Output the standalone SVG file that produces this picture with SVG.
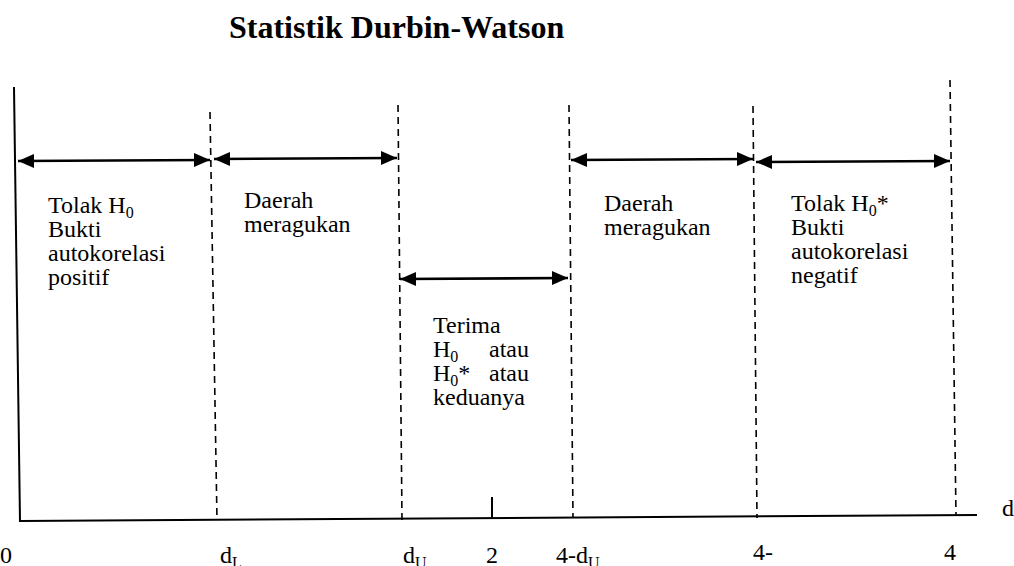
<svg xmlns="http://www.w3.org/2000/svg" width="1014" height="566" viewBox="0 0 1014 566">
<style>
text{font-family:"Liberation Serif","Times New Roman",serif;font-size:24px;fill:#000}
.title{font-weight:bold;font-size:32px}
.sub{font-size:16px}
.axis{stroke:#000;stroke-width:2;fill:none}
.dash{stroke:#000;stroke-width:1.6;stroke-dasharray:7 5;fill:none}
.arr{stroke:#000;stroke-width:2.6;fill:none;marker-start:url(#ah);marker-end:url(#ah)}
</style>
<defs>
<marker id="ah" markerUnits="userSpaceOnUse" markerWidth="18" markerHeight="16" refX="16" refY="7" orient="auto-start-reverse">
<path d="M0,0 L16,7 L0,14 z" fill="#000"/>
</marker>
</defs>
<rect width="1014" height="566" fill="#fff"/>
<text id="title" class="title" x="229" y="38">Statistik Durbin-Watson</text>
<g id="axes">
<line class="axis" x1="14" y1="87" x2="20" y2="522"/>
<line class="axis" x1="20" y1="521" x2="977" y2="515"/>
<line class="axis" x1="492" y1="497" x2="492" y2="519"/>
</g>
<g id="boundaries">
<line class="dash" x1="210" y1="112" x2="217" y2="520"/>
<line class="dash" x1="398" y1="105" x2="402" y2="520"/>
<line class="dash" x1="569" y1="105" x2="573" y2="518"/>
<line class="dash" x1="753" y1="106" x2="757" y2="518"/>
<line class="dash" x1="950" y1="80" x2="956" y2="516"/>
</g>
<g id="connectors">
<line class="arr" x1="18" y1="161" x2="210" y2="160"/>
<line class="arr" x1="214" y1="159" x2="397" y2="158"/>
<line class="arr" x1="400" y1="279" x2="568" y2="278"/>
<line class="arr" x1="571" y1="160" x2="753" y2="159"/>
<line class="arr" x1="756" y1="162" x2="950" y2="161"/>
</g>
<g id="region1">
<text x="48" y="213">Tolak H<tspan class="sub" dy="5">0</tspan></text>
<text x="48" y="237">Bukti</text>
<text x="48" y="261">autokorelasi</text>
<text x="48" y="285">positif</text>
</g>
<g id="region2">
<text x="244" y="208">Daerah</text>
<text x="244" y="232">meragukan</text>
</g>
<g id="region3">
<text x="433" y="333">Terima</text>
<text x="433" y="357">H<tspan class="sub" dy="5">0</tspan></text>
<text x="529" y="357" text-anchor="end">atau</text>
<text x="433" y="381">H<tspan class="sub" dy="5">0</tspan><tspan dy="-5">*</tspan></text>
<text x="529" y="381" text-anchor="end">atau</text>
<text x="433" y="405">keduanya</text>
</g>
<g id="region4">
<text x="604" y="211">Daerah</text>
<text x="604" y="235">meragukan</text>
</g>
<g id="region5">
<text x="791" y="211">Tolak H<tspan class="sub" dy="5">0</tspan><tspan dy="-5">*</tspan></text>
<text x="791" y="235">Bukti</text>
<text x="791" y="259">autokorelasi</text>
<text x="791" y="283">negatif</text>
</g>
<g id="axislabels">
<text x="0" y="563">0</text>
<text x="220" y="563">d<tspan class="sub" dy="5">L</tspan></text>
<text x="403" y="563">d<tspan class="sub" dy="5">U</tspan></text>
<text x="486" y="563">2</text>
<text x="556" y="563">4-d<tspan class="sub" dy="5">U</tspan></text>
<text x="753" y="560">4-</text>
<text x="944" y="560">4</text>
<text x="1002" y="516">d</text>
</g>
</svg>
